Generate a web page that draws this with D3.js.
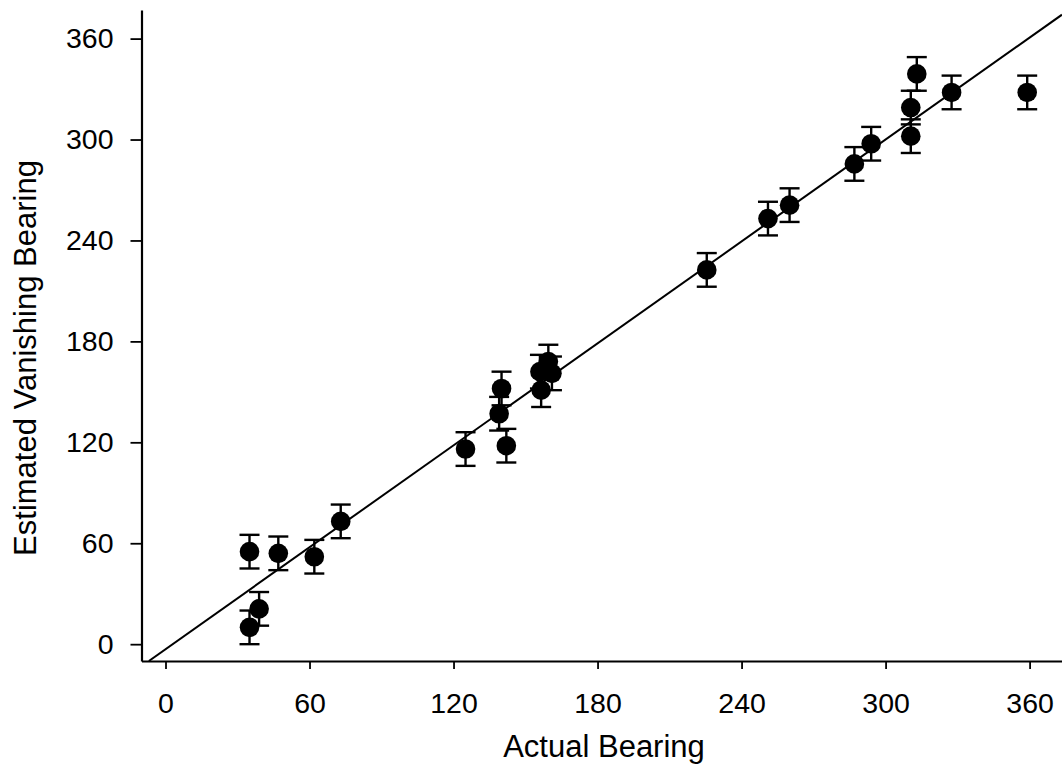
<!DOCTYPE html>
<html>
<head>
<meta charset="utf-8">
<script src="https://cdn.jsdelivr.net/npm/d3@7"></script>
<style>
	body { margin: 0; background: #fff; }
	text { font-family: "Liberation Sans", Arial, sans-serif; fill: #000; }
</style>
</head>
<body>
<div id="bearing-chart"></div>
<script>
// actual vs estimated vanishing bearing (degrees)
var actualBearing = [35, 35, 39, 47, 62, 73, 125, 139, 140, 142, 156.5, 156, 159.5, 161, 225.5, 251, 260, 287, 294, 310.5, 310.5, 313, 327.5, 359];
var estimatedBearing = [55, 10, 21, 54, 52, 73, 116, 137, 152, 118, 151, 162, 168, 161, 222.5, 253, 261, 285.5, 297.5, 302, 319, 339, 328, 328];
var errorSize = [10, 10, 10, 10, 10, 10, 10, 10, 10, 10, 10, 10, 10, 10, 10, 10, 10, 10, 10, 10, 10, 10, 10, 10];
var xTicks = [0, 60, 120, 180, 240, 300, 360];
var yTicks = [0, 60, 120, 180, 240, 300, 360];
// fitted line
var fitSlope = 1.01,
	fitIntercept = -3;

(function () {
	'use strict'

	var width = 1062,
		height = 779;

	var svg = d3.select("#bearing-chart")
		.append("svg")
			.attr("width", width)
			.attr("height", height);

	var x = d3.scaleLinear().domain([-10, 373.5]).range([141.5, 1062]);
	var y = d3.scaleLinear().domain([-10, 377]).range([661, 10]);

	var points = actualBearing.map(function (d, i) {
		return { x: d, y: estimatedBearing[i], err: errorSize[i] };
	});

	// axes
	var xAxis = svg.append("g")
		.attr("transform", "translate(0," + y(-10) + ")")
		.call(d3.axisBottom(x).tickValues(xTicks).tickSize(8).tickPadding(24).tickSizeOuter(0));
	var yAxis = svg.append("g")
		.attr("transform", "translate(" + x(-10) + ",0)")
		.call(d3.axisLeft(y).tickValues(yTicks).tickSize(11).tickPadding(17).tickSizeOuter(0));

	[xAxis, yAxis].forEach(function (ax) {
		ax.select(".domain").attr("stroke", "#000").attr("stroke-width", 2.2);
		ax.selectAll(".tick line").attr("stroke", "#000").attr("stroke-width", 1.8);
		ax.selectAll(".tick text")
			.attr("font-size", "28.5px")
			.attr("font-family", "Liberation Sans, Arial, sans-serif")
			.attr("fill", "#000");
	});

	// fit line, clipped to the plot
	svg.append("clipPath").attr("id", "plot-clip")
		.append("rect")
			.attr("x", x(-10)).attr("y", 0)
			.attr("width", width - x(-10)).attr("height", y(-10));

	var x0 = (-10 - fitIntercept) / fitSlope,
		x1 = 373.5;
	svg.append("line")
		.attr("clip-path", "url(#plot-clip)")
		.attr("x1", x(x0)).attr("y1", y(fitSlope * x0 + fitIntercept))
		.attr("x2", x(x1)).attr("y2", y(fitSlope * x1 + fitIntercept))
		.attr("stroke", "#000")
		.attr("stroke-width", 2);

	// error bars
	var bars = svg.append("g")
		.attr("stroke", "#000")
		.attr("stroke-width", 2.4)
		.selectAll("g")
		.data(points)
		.enter()
		.append("g");

	bars.append("line")
		.attr("x1", function (d) { return x(d.x); })
		.attr("x2", function (d) { return x(d.x); })
		.attr("y1", function (d) { return y(d.y - d.err); })
		.attr("y2", function (d) { return y(d.y + d.err); });
	bars.selectAll(".cap")
		.data(function (d) { return [d.y - d.err, d.y + d.err].map(function (v) { return { x: d.x, v: v }; }); })
		.enter()
		.append("line")
			.attr("class", "cap")
			.attr("x1", function (d) { return x(d.x) - 10; })
			.attr("x2", function (d) { return x(d.x) + 10; })
			.attr("y1", function (d) { return y(d.v); })
			.attr("y2", function (d) { return y(d.v); });

	// markers
	svg.append("g")
		.selectAll("circle")
		.data(points)
		.enter()
		.append("circle")
			.attr("cx", function (d) { return x(d.x); })
			.attr("cy", function (d) { return y(d.y); })
			.attr("r", 9.8)
			.attr("fill", "#000");

	// axis titles
	svg.append("text")
		.attr("x", 604)
		.attr("y", 757)
		.attr("text-anchor", "middle")
		.attr("font-size", "31px")
		.text("Actual Bearing");

	svg.append("text")
		.attr("transform", "translate(36,358) rotate(-90)")
		.attr("text-anchor", "middle")
		.attr("font-size", "31px")
		.text("Estimated Vanishing Bearing");
})();
</script>
</body>
</html>
